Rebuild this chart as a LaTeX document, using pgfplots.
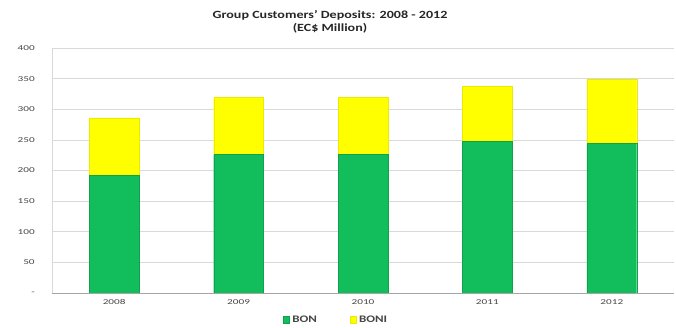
\documentclass[border=0pt]{standalone}
\usepackage{pgfplots}
\pgfplotsset{compat=1.18}
\usepackage{fontspec}
\setmainfont{Carlito}
\definecolor{bongreen}{RGB}{18,190,92}
\definecolor{boniyellow}{RGB}{255,255,0}
\definecolor{gridgray}{RGB}{217,217,217}
\definecolor{txtgray}{RGB}{70,70,70}
\begin{document}
\begin{tikzpicture}
\begin{axis}[
  scale only axis,
  width=622pt, height=245pt,
  ybar stacked,
  bar width=0.4,
  xmin=-0.5, xmax=4.5,
  ymin=0, ymax=400,
  xtick={0,1,2,3,4},
  xticklabels={2008,2009,2010,2011,2012},
  ytick={0,50,...,400},
  yticklabels={-,50,100,150,200,250,300,350,400},
  ymajorgrids,
  grid style={gridgray, line width=0.7pt},
  axis x line*=bottom,
  axis y line*=left,
  x axis line style={draw=gray!70},
  y axis line style={draw=gridgray},
  major tick length=0pt,
  tick label style={font=\fontsize{7.5}{8}\selectfont, text=txtgray, xscale=1.5},
  yticklabel style={xshift=-8pt},
  xticklabel style={yshift=-3pt},
  /pgf/number format/assume math mode=true,
  title={\textbf{Group Customers' Deposits: 2008 - 2012}\\\textbf{(EC\$ Million)}},
  title style={align=center, font=\fontsize{11}{13}\selectfont, text=black!85, yshift=5pt, xshift=-33pt, xscale=1.28},
  legend style={at={(0.457,-0.075)}, anchor=north, draw=none, legend columns=2,
    font=\fontsize{10}{11}\selectfont\bfseries, text=txtgray,
    nodes={xscale=1.3},
    /tikz/every even column/.append style={column sep=30pt}},
  legend image code/.code={\fill[#1] (0pt,-3.3pt) rectangle (6.6pt,3.3pt);},
]
\addplot[fill=bongreen, draw=bongreen!85!black, line width=0.3pt] coordinates {(0,192) (1,226) (2,226) (3,248) (4,244)};
\addplot[fill=boniyellow, draw=boniyellow!92!black, line width=0.3pt] coordinates {(0,94) (1,93) (2,93) (3,89) (4,105)};
\legend{BON,BONI}
\end{axis}
\path (current axis.south west) ++(-52pt,-33pt);
\path (current axis.north east) ++(2pt,48pt);
\end{tikzpicture}
\end{document}
